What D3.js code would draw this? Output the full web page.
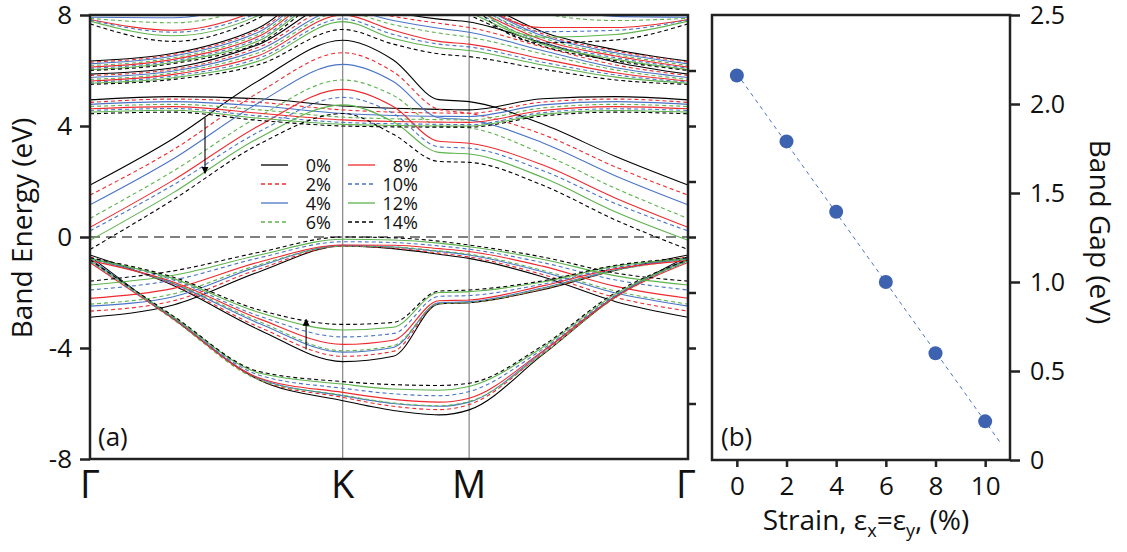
<!DOCTYPE html>
<html>
<head>
<meta charset="utf-8">
<script src="https://cdn.jsdelivr.net/npm/d3@7"></script>
<style>
  body { margin: 0; background: #fff; }
  svg { display: block; font-family: "Open Sans", sans-serif; }
</style>
</head>
<body>
<div id="viz"></div>
<script>
// Canvas
const width = 1127;
const height = 552;

// ---- Data: panel (a) band structure ----
// k-path sample points (in units of the Γ-K length); Γ=0, K=1, M=1.5, Γ=2.366
const kPoints = [0, 0.33, 0.67, 1, 1.2, 1.38, 1.5, 1.79, 2.08, 2.366];
const kLabels = ["Γ", "K", "M", "Γ"];
const kLabelPos = [0, 1, 1.5, 2.366];
const strains = ["0%", "2%", "4%", "6%", "8%", "10%", "12%", "14%"];
const strainColors = ["#000000", "#ee2a2f", "#4a74c6", "#5db34c", "#ee2a2f", "#4a74c6", "#5db34c", "#000000"];
const strainDashed = [false, true, false, true, false, true, false, true];

// each band: one row per strain, one value (eV) per k point
const bandV3 = [
  [-0.70, -2.95, -5.15, -5.90, -6.25, -6.41, -6.23, -4.25, -2.15, -0.70],
  [-0.80, -2.95, -5.15, -5.78, -6.10, -6.22, -6.04, -4.20, -2.15, -0.80],
  [-0.78, -2.92, -5.10, -5.72, -6.00, -6.10, -5.95, -4.15, -2.12, -0.78],
  [-0.85, -2.98, -5.15, -5.70, -5.98, -6.08, -5.93, -4.22, -2.18, -0.85],
  [-0.92, -2.95, -5.08, -5.60, -5.85, -5.95, -5.81, -4.12, -2.15, -0.92],
  [-0.88, -2.92, -4.98, -5.45, -5.65, -5.72, -5.57, -4.05, -2.10, -0.88],
  [-0.85, -2.88, -4.90, -5.30, -5.48, -5.52, -5.39, -3.98, -2.05, -0.85],
  [-0.82, -2.85, -4.85, -5.21, -5.32, -5.35, -5.27, -3.92, -2.00, -0.82]
];
const bandV2 = [
  [-0.65, -1.75, -3.35, -4.49, -4.30, -2.41, -2.37, -1.90, -1.20, -0.65],
  [-0.72, -1.72, -3.25, -4.30, -4.12, -2.40, -2.36, -1.88, -1.20, -0.72],
  [-0.76, -1.68, -3.12, -4.15, -3.98, -2.37, -2.33, -1.84, -1.18, -0.76],
  [-0.80, -1.66, -3.05, -4.10, -3.92, -2.40, -2.36, -1.86, -1.20, -0.80],
  [-0.85, -1.62, -2.95, -3.87, -3.72, -2.30, -2.27, -1.76, -1.14, -0.85],
  [-0.80, -1.55, -2.85, -3.60, -3.48, -2.14, -2.11, -1.70, -1.10, -0.80],
  [-0.78, -1.50, -2.72, -3.35, -3.25, -2.00, -1.97, -1.62, -1.05, -0.78],
  [-0.75, -1.45, -2.63, -3.15, -3.08, -1.95, -1.91, -1.58, -1.02, -0.75]
];
const bandV1 = [
  [-2.89, -2.45, -1.25, -0.32, -0.42, -0.62, -0.77, -1.43, -2.33, -2.89],
  [-2.67, -2.30, -1.15, -0.33, -0.40, -0.58, -0.72, -1.35, -2.18, -2.67],
  [-2.49, -2.15, -1.05, -0.30, -0.36, -0.52, -0.65, -1.25, -2.02, -2.49],
  [-2.42, -2.05, -1.00, -0.33, -0.36, -0.50, -0.62, -1.20, -1.95, -2.42],
  [-2.21, -1.85, -0.90, -0.29, -0.30, -0.42, -0.52, -1.05, -1.78, -2.21],
  [-1.91, -1.55, -0.75, -0.17, -0.20, -0.32, -0.44, -0.92, -1.55, -1.91],
  [-1.73, -1.38, -0.65, -0.08, -0.11, -0.22, -0.35, -0.80, -1.40, -1.73],
  [-1.59, -1.22, -0.55, 0.00, -0.03, -0.15, -0.29, -0.72, -1.30, -1.59]
];
const bandC1 = [
  [1.87, 3.55, 5.65, 7.09, 6.38, 4.95, 4.88, 4.07, 2.90, 1.87],
  [1.51, 3.15, 5.22, 6.64, 5.95, 4.60, 4.46, 3.70, 2.52, 1.51],
  [1.16, 2.82, 4.85, 6.22, 5.60, 4.30, 4.22, 3.40, 2.20, 1.16],
  [0.67, 2.38, 4.35, 5.66, 5.10, 4.00, 3.93, 3.00, 1.75, 0.67],
  [0.35, 2.05, 4.02, 5.32, 4.70, 3.45, 3.38, 2.60, 1.40, 0.35],
  [0.22, 1.88, 3.80, 5.03, 4.45, 3.25, 3.20, 2.40, 1.20, 0.22],
  [-0.12, 1.60, 3.58, 4.76, 4.15, 3.05, 2.99, 2.15, 0.90, -0.12],
  [-0.45, 1.35, 3.35, 4.45, 3.70, 2.72, 2.69, 1.87, 0.61, -0.45]
];
const bandC2 = [
  [4.94, 5.06, 4.98, 4.72, 4.64, 4.60, 4.58, 4.98, 5.06, 4.94],
  [4.85, 4.97, 4.85, 4.58, 4.50, 4.47, 4.46, 4.86, 4.97, 4.85],
  [4.78, 4.88, 4.72, 4.45, 4.38, 4.35, 4.34, 4.76, 4.88, 4.78],
  [4.70, 4.78, 4.58, 4.32, 4.26, 4.23, 4.22, 4.65, 4.78, 4.70],
  [4.62, 4.70, 4.46, 4.22, 4.16, 4.14, 4.13, 4.56, 4.70, 4.62],
  [4.56, 4.63, 4.36, 4.13, 4.08, 4.06, 4.05, 4.48, 4.62, 4.56],
  [4.50, 4.57, 4.28, 4.06, 4.02, 4.00, 4.00, 4.42, 4.56, 4.50],
  [4.44, 4.50, 4.20, 4.00, 3.97, 3.96, 3.96, 4.36, 4.50, 4.44]
];
const bandC5 = [
  [5.87, 6.10, 6.95, 8.50, 8.10, 7.85, 7.75, 7.00, 6.30, 5.87],
  [5.82, 6.04, 6.85, 8.35, 7.95, 7.70, 7.55, 6.85, 6.20, 5.82],
  [5.75, 5.98, 6.75, 8.20, 7.80, 7.52, 7.38, 6.72, 6.10, 5.75],
  [5.68, 5.92, 6.65, 8.10, 7.65, 7.35, 7.20, 6.60, 6.02, 5.68],
  [5.62, 5.86, 6.55, 8.00, 7.45, 7.05, 6.95, 6.42, 5.92, 5.62],
  [5.58, 5.80, 6.45, 7.86, 7.30, 6.95, 6.85, 6.30, 5.84, 5.58],
  [5.54, 5.74, 6.35, 7.76, 7.15, 6.82, 6.72, 6.20, 5.76, 5.54],
  [5.50, 5.68, 6.22, 7.48, 6.95, 6.60, 6.50, 6.05, 5.66, 5.50]
];
const bandC4 = [
  [6.34, 6.62, 7.55, 9.5, 9.5, 9.2, 8.7, 7.40, 6.75, 6.34],
  [6.30, 6.58, 7.48, 9.4, 9.4, 9.1, 8.6, 7.32, 6.70, 6.30],
  [6.24, 6.52, 7.40, 9.3, 9.3, 9.0, 8.5, 7.25, 6.64, 6.24],
  [6.18, 6.46, 7.32, 9.2, 9.2, 8.9, 8.4, 7.18, 6.58, 6.18],
  [6.12, 6.40, 7.24, 9.1, 9.1, 8.8, 8.3, 7.10, 6.52, 6.12],
  [6.08, 6.35, 7.16, 9.0, 9.0, 8.7, 8.2, 7.02, 6.46, 6.08],
  [6.03, 6.30, 7.08, 8.9, 8.9, 8.6, 8.1, 6.95, 6.40, 6.03],
  [6.00, 6.25, 7.00, 8.8, 8.8, 8.5, 8.0, 6.88, 6.35, 6.00]
];
const bandC6 = [
  [8.05, 8.25, 9.0, 10, 10, 10, 9.6, 8.90, 8.30, 8.05],
  [7.98, 8.05, 8.8, 10, 10, 10, 9.4, 8.60, 8.10, 7.98],
  [7.92, 7.90, 8.6, 10, 10, 10, 9.2, 8.35, 7.95, 7.92],
  [7.88, 7.72, 8.4, 10, 10, 10, 9.0, 8.05, 7.80, 7.88],
  [7.84, 7.45, 8.2, 10, 10, 10, 8.8, 7.55, 7.55, 7.84],
  [7.82, 7.38, 8.1, 10, 10, 10, 8.7, 7.40, 7.45, 7.82],
  [7.78, 7.25, 8.0, 10, 10, 10, 8.6, 7.20, 7.30, 7.78],
  [7.68, 7.05, 7.9, 10, 10, 10, 8.5, 7.00, 7.10, 7.68]
];
const bands = [bandV3, bandV2, bandV1, bandC2, bandC1, bandC5, bandC4, bandC6];

// arrows marking the shift of the bands (k, from eV, to eV)
const arrowK = [0.455, 0.855];
const arrowFrom = [4.29, -4.05];
const arrowTo = [2.30, -2.97];

// ---- Data: panel (b) band gap vs strain ----
const strainValues = [0, 2, 4, 6, 8, 10];
const gapValues = [2.16, 1.79, 1.395, 1.0, 0.60, 0.217];

// Create SVG container
const svg = d3.select("#viz")
    .append("svg")
    .attr("width", width)
    .attr("height", height)
    .style("background", "#fff");

const defs = svg.append("defs");
defs.append("clipPath").attr("id", "clipA")
    .append("rect").attr("x", 90).attr("y", 15).attr("width", 598).attr("height", 444);
defs.append("marker")
    .attr("id", "arrowHead")
    .attr("viewBox", "0 0 10 10")
    .attr("refX", 9).attr("refY", 5)
    .attr("markerWidth", 7).attr("markerHeight", 9)
    .attr("markerUnits", "userSpaceOnUse")
    .attr("orient", "auto")
    .append("path").attr("d", "M0,0 L10,5 L0,10 Z").attr("fill", "#000");

// ================= Panel (a) =================
const xA = d3.scaleLinear().domain([0, 2.366]).range([90, 688]);
const yA = d3.scaleLinear().domain([-8, 8]).range([459, 15]);

const plotA = svg.append("g").attr("clip-path", "url(#clipA)");

// high-symmetry verticals
plotA.selectAll(".sym")
    .data(kLabelPos.slice(1, 3))
    .enter().append("line")
    .attr("x1", d => xA(d)).attr("x2", d => xA(d))
    .attr("y1", yA(8)).attr("y2", yA(-8))
    .attr("stroke", "#6a6a6a").attr("stroke-width", 1);

// Fermi level
plotA.append("line")
    .attr("x1", xA(0)).attr("x2", xA(2.366))
    .attr("y1", yA(0)).attr("y2", yA(0))
    .attr("stroke", "#000").attr("stroke-width", 1.2)
    .attr("stroke-dasharray", "10,6");

const bandLine = d3.line()
    .x((d, i) => xA(kPoints[i]))
    .y(d => yA(d))
    .curve(d3.curveMonotoneX);

strains.forEach((s, si) => {
    plotA.selectAll(".band-" + si)
        .data(bands.map(b => b[si]))
        .enter().append("path")
        .attr("class", "band-" + si)
        .attr("d", bandLine)
        .attr("fill", "none")
        .attr("stroke", strainColors[si])
        .attr("stroke-width", 1.1)
        .attr("stroke-dasharray", strainDashed[si] ? "4,3" : null);
});

// arrows
svg.selectAll(".shift-arrow")
    .data(arrowK)
    .enter().append("line")
    .attr("x1", d => xA(d)).attr("x2", d => xA(d))
    .attr("y1", (d, i) => yA(arrowFrom[i]))
    .attr("y2", (d, i) => yA(arrowTo[i]))
    .attr("stroke", "#000").attr("stroke-width", 1.1)
    .attr("marker-end", "url(#arrowHead)");

// legend
const legend = svg.append("g");
strains.forEach((s, i) => {
    const col = Math.floor(i / 4), row = i % 4;
    const lx = 261 + col * 87, ly = 165 + row * 19;
    legend.append("line")
        .attr("x1", lx).attr("x2", lx + 27)
        .attr("y1", ly).attr("y2", ly)
        .attr("stroke", strainColors[i]).attr("stroke-width", 1.3)
        .attr("stroke-dasharray", strainDashed[i] ? "4,3" : null);
    legend.append("text")
        .attr("x", lx + 70).attr("y", ly + 6.5)
        .attr("text-anchor", "end")
        .attr("font-size", 18)
        .attr("fill", "#111")
        .text(s);
});

// axes (a)
const axA = svg.append("g").attr("transform", "translate(90,0)")
    .call(d3.axisLeft(yA).tickValues([8, 4, 0, -4, -8]).tickSize(10).tickPadding(8).tickFormat(d => String(d)));
axA.select(".domain").remove();
axA.selectAll("line").attr("stroke", "#222").attr("stroke-width", 2.5);
axA.selectAll("text").attr("font-size", 26).attr("fill", "#111").attr("font-family", "Open Sans, sans-serif");

const axAR = svg.append("g").attr("transform", "translate(688,0)")
    .call(d3.axisRight(yA).tickValues([-6, -4, -2, 0, 2, 4, 6]).tickSize(8).tickFormat(""));
axAR.select(".domain").remove();
axAR.selectAll("line").attr("stroke", "#222").attr("stroke-width", 2.5);

svg.append("rect")
    .attr("x", 90).attr("y", 15).attr("width", 598).attr("height", 444)
    .attr("fill", "none").attr("stroke", "#222").attr("stroke-width", 2.5);

svg.selectAll(".klabel")
    .data(kLabels)
    .enter().append("text")
    .attr("x", (d, i) => xA(kLabelPos[i]) + (i === 3 ? -2 : 0))
    .attr("y", 498)
    .attr("text-anchor", "middle")
    .attr("font-size", 38)
    .attr("fill", "#111")
    .text(d => d);

svg.append("text")
    .attr("transform", "translate(32,228) rotate(-90)")
    .attr("text-anchor", "middle")
    .attr("font-size", 28)
    .attr("fill", "#111")
    .text("Band Energy (eV)");

svg.append("text")
    .attr("x", 98).attr("y", 446)
    .attr("font-size", 26).attr("fill", "#111")
    .text("(a)");

// ================= Panel (b) =================
const xB = d3.scaleLinear().domain([-1, 11]).range([712, 1010]);
const yB = d3.scaleLinear().domain([0, 2.5]).range([460, 15]);

// linear fit of the gap values
const mx = d3.mean(strainValues), my = d3.mean(gapValues);
const slope = d3.sum(strainValues, (v, i) => (v - mx) * (gapValues[i] - my)) / d3.sum(strainValues, v => (v - mx) * (v - mx));
const icept = my - slope * mx;
const fitRange = [0, 10.65];

svg.append("line")
    .attr("x1", xB(fitRange[0])).attr("y1", yB(icept + slope * fitRange[0]))
    .attr("x2", xB(fitRange[1])).attr("y2", yB(icept + slope * fitRange[1]))
    .attr("stroke", "#4a74c6").attr("stroke-width", 1)
    .attr("stroke-dasharray", "4,4");

svg.selectAll(".gap-dot")
    .data(strainValues)
    .enter().append("circle")
    .attr("class", "gap-dot")
    .attr("cx", d => xB(d))
    .attr("cy", (d, i) => yB(gapValues[i]))
    .attr("r", 7)
    .attr("fill", "#3d63b0");

const axBR = svg.append("g").attr("transform", "translate(1010,0)")
    .call(d3.axisRight(yB).tickValues([0, 0.5, 1, 1.5, 2, 2.5]).tickSize(10).tickPadding(10)
        .tickFormat(d => d === 0 ? "0" : d.toFixed(1)));
axBR.select(".domain").remove();
axBR.selectAll("line").attr("stroke", "#222").attr("stroke-width", 2.5);
axBR.selectAll("text").attr("font-size", 25).attr("fill", "#111").attr("font-family", "Open Sans, sans-serif");

const axBB = svg.append("g").attr("transform", "translate(0,460)")
    .call(d3.axisBottom(xB).tickValues(strainValues).tickSize(7).tickPadding(10));
axBB.select(".domain").remove();
axBB.selectAll("line").attr("stroke", "#222").attr("stroke-width", 2.5);
axBB.selectAll("text").attr("font-size", 26).attr("fill", "#111").attr("font-family", "Open Sans, sans-serif");

svg.append("rect")
    .attr("x", 712).attr("y", 15).attr("width", 298).attr("height", 445)
    .attr("fill", "none").attr("stroke", "#222").attr("stroke-width", 2.5);

svg.append("text")
    .attr("x", 721).attr("y", 446)
    .attr("font-size", 26).attr("fill", "#111")
    .text("(b)");

const xTitle = svg.append("text")
    .attr("x", 866).attr("y", 530)
    .attr("text-anchor", "middle")
    .attr("font-size", 28)
    .attr("fill", "#111");
xTitle.append("tspan").text("Strain, ε");
xTitle.append("tspan").attr("font-size", 18).attr("dy", 7).text("x");
xTitle.append("tspan").attr("dy", -7).text("=ε");
xTitle.append("tspan").attr("font-size", 18).attr("dy", 7).text("y");
xTitle.append("tspan").attr("dy", -7).text(", (%)");

svg.append("text")
    .attr("transform", "translate(1090,232) rotate(90)")
    .attr("text-anchor", "middle")
    .attr("font-size", 28)
    .attr("fill", "#111")
    .text("Band Gap (eV)");
</script>
</body>
</html>
